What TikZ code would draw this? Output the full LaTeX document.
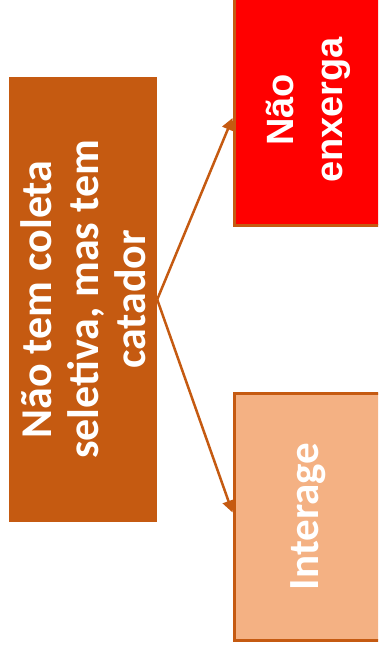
\documentclass[tikz,border=0pt]{standalone}
\usepackage{fontspec}
\newfontfamily\carlito{Carlito}
\newfontfamily\libsans{Liberation Sans}
\usetikzlibrary{arrows.meta}
\definecolor{laranja}{HTML}{C55A11}
\definecolor{vermelho}{HTML}{FF0000}
\definecolor{pessego}{HTML}{F4B183}

\begin{document}
\begin{tikzpicture}[
  x=1pt, y=1pt,
  caixa/.style={rotate=90, inner sep=0pt, align=center, text=white},
  borda/.style={draw=laranja, line width=3pt},
  seta/.style={draw=laranja, line width=2.5pt, -{Triangle[length=12pt,width=12pt]}}
]
  \clip (0,0) rectangle (378,-659);
  % rotated boxes: north = left side, south = right side
  \node[caixa, fill=laranja, minimum width=445pt, minimum height=148pt,
        font=\carlito\bfseries\fontsize{44}{47}\selectfont] (situacao) at (83,-299.5)
        {Não tem coleta\\seletiva, mas tem\\catador};
  \node[caixa, borda, fill=vermelho, minimum width=230pt, minimum height=149pt,
        font=\libsans\bfseries\fontsize{38}{49}\selectfont] (naoenx) at (308.5,-110)
        {Não\\enxerga};
  \node[caixa, borda, fill=pessego, minimum width=247pt, minimum height=149pt,
        font=\carlito\bfseries\fontsize{43}{47}\selectfont] (interage) at (308.5,-516.5)
        {Interage};

  \draw[seta] (situacao.south) -- ([yshift=-8pt]naoenx.north);
  \draw[seta] (situacao.south) -- ([yshift=4pt]interage.north);
\end{tikzpicture}
\end{document}
